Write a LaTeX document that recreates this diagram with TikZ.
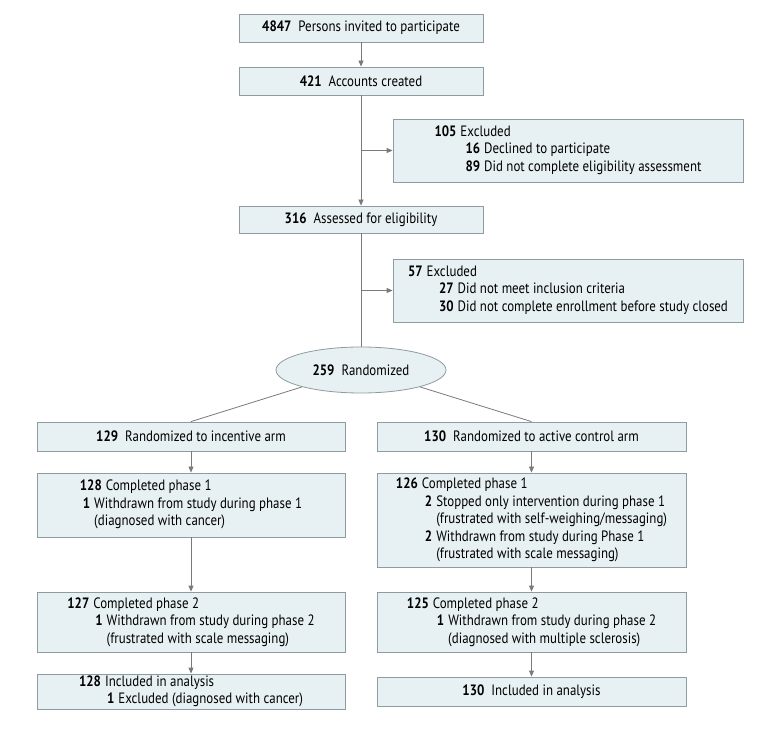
\documentclass[tikz,border=0pt]{standalone}
\usepackage{fontspec}
\setmainfont[FakeStretch=0.86]{PT Sans}
\usetikzlibrary{arrows.meta,shapes.geometric}
\definecolor{boxfill}{HTML}{E7F0F2}
\definecolor{boxline}{HTML}{8E9CA1}
\definecolor{linegray}{HTML}{7A7A7A}
\newcommand{\nb}[1]{\textbf{#1}}
\newcommand{\gap}{\hspace{4pt}}
\newcommand{\sgap}{\hspace{7pt}}
\begin{document}
\begin{tikzpicture}[x=1pt,y=-1pt,
  box/.style={draw=boxline, fill=boxfill, line width=0.8pt, inner sep=0pt,
    font=\fontsize{15}{17.5}\selectfont, align=left},
  conn/.style={draw=linegray, line width=0.8pt},
  arr/.style={conn, -{Triangle[length=6pt,width=5pt]}}]
\useasboundingbox (0,0) rectangle (780,735);

\node[box, minimum width=244pt, minimum height=28pt] (invited) at (361,28)
  {\nb{4847}\sgap Persons invited to participate};
\node[box, minimum width=244pt, minimum height=28pt] (accounts) at (361,81)
  {\nb{421}\sgap Accounts created};
\node[box, minimum width=350pt, minimum height=63pt] (excl1) at (568,150.5)
  {\begin{tabular}{@{}l@{}}
   \nb{105}\gap Excluded\\
   \hspace{31pt}\nb{16}\gap Declined to participate\\
   \hspace{31pt}\nb{89}\gap Did not complete eligibility assessment
   \end{tabular}};
\node[box, minimum width=244pt, minimum height=27pt] (assessed) at (361,219.5)
  {\nb{316}\sgap Assessed for eligibility};
\node[box, minimum width=350pt, minimum height=63pt] (excl2) at (568,290.5)
  {\begin{tabular}{@{}l@{}}
   \nb{57}\gap Excluded\\
   \hspace{31pt}\nb{27}\gap Did not meet inclusion criteria\\
   \hspace{31pt}\nb{30}\gap Did not complete enrollment before study closed
   \end{tabular}};
\node[box, ellipse, minimum width=170pt, minimum height=46pt] (rand) at (361,370)
  {\nb{259}\sgap Randomized};

\node[box, minimum width=308pt, minimum height=29pt] (armL) at (191,436.5)
  {\nb{129}\sgap Randomized to incentive arm};
\node[box, minimum width=309pt, minimum height=29pt] (armR) at (531.5,436.5)
  {\nb{130}\sgap Randomized to active control arm};

\node[box, minimum width=308pt, minimum height=64pt] (p1L) at (191,505)
  {\begin{tabular}{@{}l@{}}
   \nb{128}\gap Completed phase 1\\
   \hspace{3pt}\nb{1}\gap Withdrawn from study during phase 1\\
   \hspace{3pt}\phantom{\nb{1}}\gap (diagnosed with cancer)
   \end{tabular}};
\node[box, minimum width=309pt, minimum height=94pt] (p1R) at (531.5,520)
  {\begin{tabular}{@{}l@{}}
   \nb{126}\gap Completed phase 1\\
   \hspace{29pt}\nb{2}\gap Stopped only intervention during phase 1\\
   \hspace{29pt}\phantom{\nb{2}}\gap (frustrated with self-weighing/messaging)\\
   \hspace{29pt}\nb{2}\gap Withdrawn from study during Phase 1\\
   \hspace{29pt}\phantom{\nb{2}}\gap (frustrated with scale messaging)
   \end{tabular}};

\node[box, minimum width=308pt, minimum height=60pt] (p2L) at (191,622)
  {\begin{tabular}{@{}l@{}}
   \nb{127}\gap Completed phase 2\\
   \hspace{28pt}\nb{1}\gap Withdrawn from study during phase 2\\
   \hspace{28pt}\phantom{\nb{1}}\gap (frustrated with scale messaging)
   \end{tabular}};
\node[box, minimum width=309pt, minimum height=60pt] (p2R) at (531.5,622)
  {\begin{tabular}{@{}l@{}}
   \nb{125}\gap Completed phase 2\\
   \hspace{30pt}\nb{1}\gap Withdrawn from study during phase 2\\
   \hspace{30pt}\phantom{\nb{1}}\gap (diagnosed with multiple sclerosis)
   \end{tabular}};

\node[box, minimum width=308pt, minimum height=29pt] (finL) at (191,691.5)
  {\begin{tabular}{@{}l@{}}
   \nb{128}\gap Included in analysis\\
   \hspace{28pt}\nb{1}\gap Excluded (diagnosed with cancer)
   \end{tabular}};
\node[box, minimum width=309pt, minimum height=29pt] (finR) at (531.5,691.5)
  {\nb{130}\sgap Included in analysis};

% connectors
\draw[arr] (invited) -- (accounts);
\draw[arr] (accounts) -- (assessed);
\draw[arr] (accounts.south |- excl1.west) -- (excl1.west);
\draw[conn] (assessed) -- (rand);
\draw[arr] (assessed.south |- excl2.west) -- (excl2.west);
\draw[conn] (rand.196) -- (armL.north);
\draw[conn] (rand.-16) -- (armR.north);
\draw[arr] (armL) -- (p1L);
\draw[arr] (p1L) -- (p2L);
\draw[arr] (p2L) -- (finL);
\draw[arr] (armR) -- (p1R);
\draw[arr] (p1R) -- (p2R);
\draw[arr] (p2R) -- (finR);
\end{tikzpicture}
\end{document}
